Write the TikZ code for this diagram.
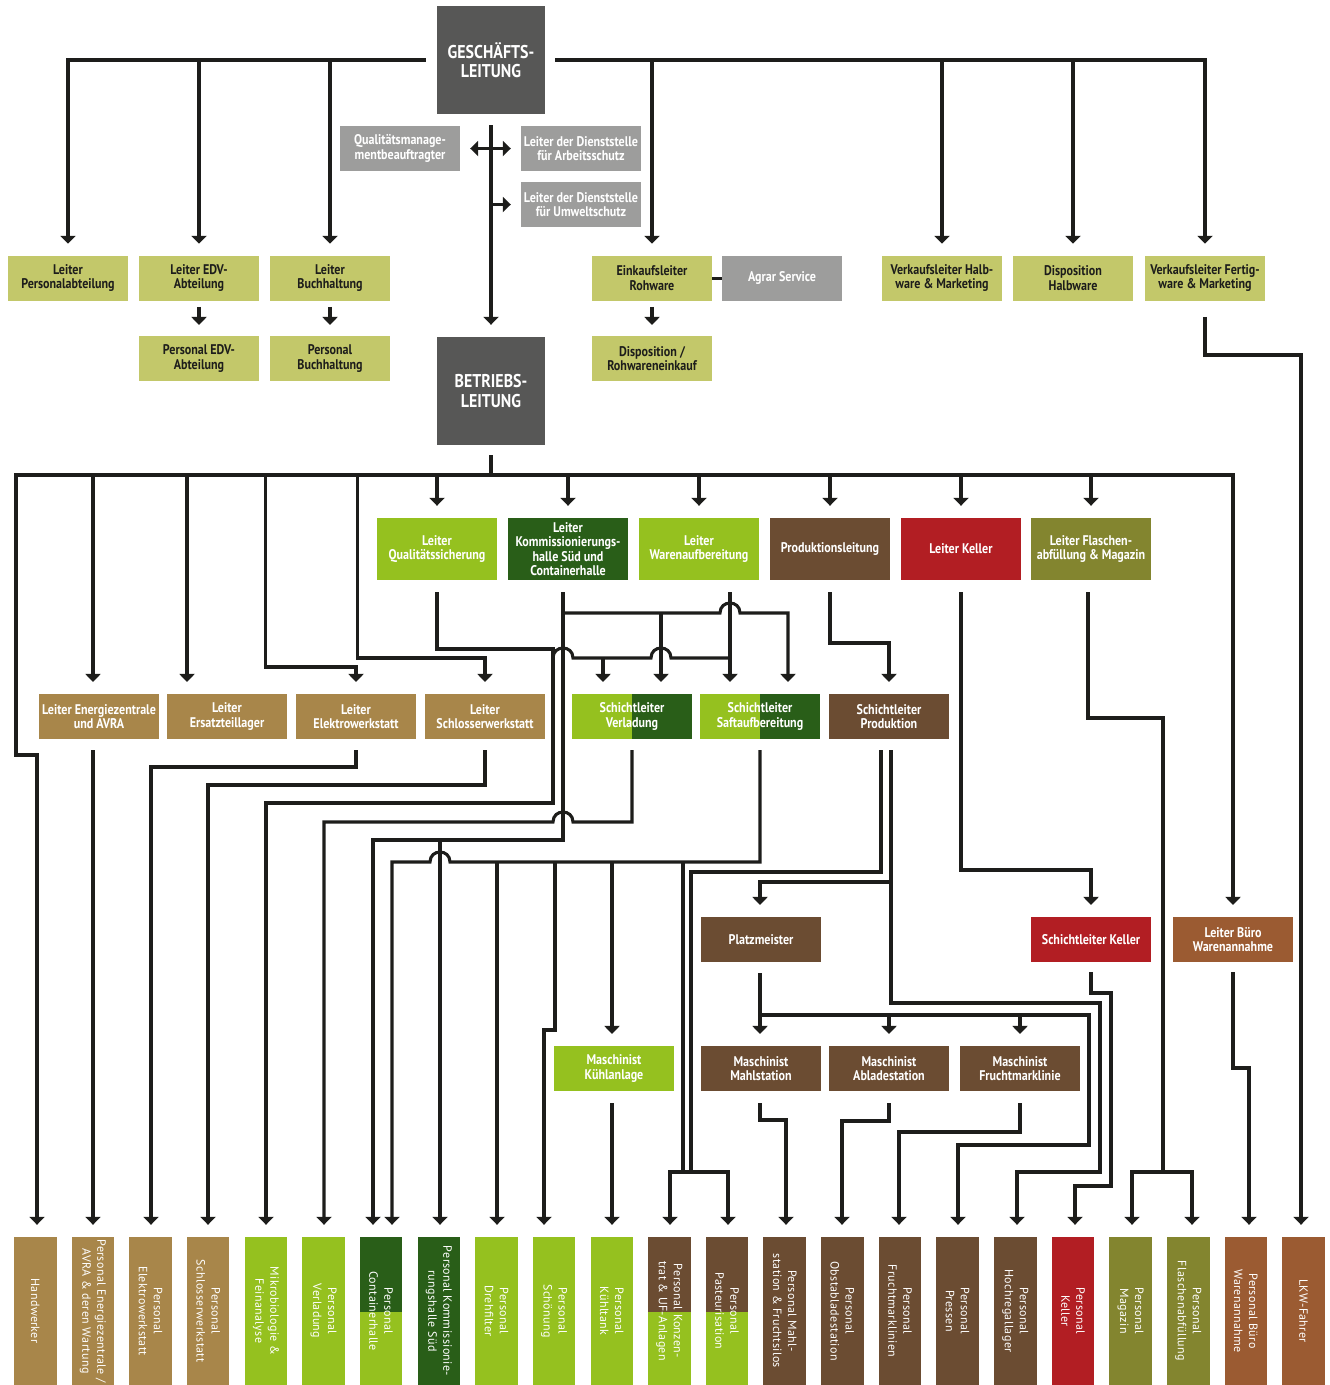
\documentclass[tikz,border=0pt]{standalone}
\usepackage{fontspec}
\setmainfont{PT Sans}[FakeStretch=0.86]
\newfontfamily\btfont{PT Sans}[LetterSpace=3]
\usetikzlibrary{arrows.meta}
\definecolor{topgreen}{HTML}{C3C86A}
\definecolor{greyb}{HTML}{9D9D9C}
\definecolor{darkg}{HTML}{575756}
\definecolor{lgreen}{HTML}{95C11F}
\definecolor{dgreen}{HTML}{295E18}
\definecolor{brownb}{HTML}{6B4C32}
\definecolor{redb}{HTML}{B21E23}
\definecolor{oliveb}{HTML}{83852F}
\definecolor{tanb}{HTML}{A8864A}
\definecolor{rustb}{HTML}{9B5B32}
\definecolor{linec}{HTML}{1D1D1B}
\begin{document}
\begin{tikzpicture}[x=1pt,y=-1pt,
  >={Triangle[width=15pt,length=8pt]},
  box/.style={rectangle, inner sep=0pt, align=center, minimum width=120pt, minimum height=44.7pt,
    font=\fontsize{14}{14.4}\selectfont\bfseries, text=white},
  topbox/.style={box, fill=topgreen, text=linec},
  greybox/.style={box, fill=greyb},
  bossbox/.style={box, fill=darkg, minimum width=108pt, minimum height=108pt, font=\fontsize{18.5}{19.5}\selectfont\bfseries},
  tallbox/.style={box, minimum height=62pt},
  bbox/.style={rectangle, inner sep=0pt, rotate=-90, minimum width=148pt, minimum height=42.5pt,
    align=center, text=white, font=\btfont\fontsize{12}{15}\selectfont},
  ln/.style={line width=3.1pt, draw=linec},
  arr/.style={ln, ->, shorten >=12pt}]
\useasboundingbox (0,0) rectangle (1330,1385);

% ---------- top level ----------
\node[bossbox] (gl) at (491,60) {GESCHÄFTS-\\LEITUNG};
\node[bossbox] (bl) at (491,391) {BETRIEBS-\\LEITUNG};
\node[greybox] (qmb) at (400,148.5) {Qualitätsmanage-\\mentbeauftragter};
\node[greybox] (arbeit) at (581,148.5) {Leiter der Dienststelle\\für Arbeitsschutz};
\node[greybox] (umwelt) at (581,204.5) {Leiter der Dienststelle\\für Umweltschutz};

\node[topbox] (lpers) at (68,278.3) {Leiter\\Personalabteilung};
\node[topbox] (ledv) at (199,278.3) {Leiter EDV-\\Abteilung};
\node[topbox] (lbuch) at (330,278.3) {Leiter\\Buchhaltung};
\node[topbox] (eink) at (652,278.3) {Einkaufsleiter\\Rohware};
\node[greybox] (agrar) at (782,278.3) {Agrar Service};
\node[topbox] (vkhalb) at (942,278.3) {Verkaufsleiter Halb-\\ware \& Marketing};
\node[topbox] (disph) at (1073,278.3) {Disposition\\Halbware};
\node[topbox] (vkfert) at (1205,278.3) {Verkaufsleiter Fertig-\\ware \& Marketing};
\node[topbox] (pedv) at (199,358.5) {Personal EDV-\\Abteilung};
\node[topbox] (pbuch) at (330,358.5) {Personal\\Buchhaltung};
\node[topbox] (disprw) at (652,358.5) {Disposition /\\Rohwareneinkauf};

% ---------- middle row 1 ----------
\node[tallbox, fill=lgreen] (lqs) at (437,549) {Leiter\\Qualitätssicherung};
\node[tallbox, fill=dgreen] (lkomm) at (568,549) {Leiter\\Kommissionierungs-\\halle Süd und\\Containerhalle};
\node[tallbox, fill=lgreen] (lware) at (699,549) {Leiter\\Warenaufbereitung};
\node[tallbox, fill=brownb] (prodl) at (830,549) {Produktionsleitung};
\node[tallbox, fill=redb] (lkeller) at (961,549) {Leiter Keller};
\node[tallbox, fill=oliveb] (lflasch) at (1091,549) {Leiter Flaschen-\\abfüllung \& Magazin};

% ---------- middle row 2 ----------
\fill[lgreen] (572,694) rectangle (632,739);
\fill[dgreen] (632,694) rectangle (692,739);
\fill[lgreen] (700,694) rectangle (760,739);
\fill[dgreen] (760,694) rectangle (820,739);
\node[box, fill=tanb] (lenergie) at (99,716.5) {Leiter Energiezentrale\\und AVRA};
\node[box, fill=tanb] (lersatz) at (227,716.5) {Leiter\\Ersatzteillager};
\node[box, fill=tanb] (lelektro) at (356,716.5) {Leiter\\Elektrowerkstatt};
\node[box, fill=tanb] (lschloss) at (485,716.5) {Leiter\\Schlosserwerkstatt};
\node[box] (sverl) at (632,716.5) {Schichtleiter\\Verladung};
\node[box] (ssaft) at (760,716.5) {Schichtleiter\\Saftaufbereitung};
\node[box, fill=brownb] (sprod) at (889,716.5) {Schichtleiter\\Produktion};

% ---------- rows 3 and 4 ----------
\node[box, fill=brownb] (platz) at (761,939.5) {Platzmeister};
\node[box, fill=redb] (skeller) at (1091,939.5) {Schichtleiter Keller};
\node[box, fill=rustb] (lbuero) at (1233,939.5) {Leiter Büro\\Warenannahme};
\node[box, fill=lgreen] (mkuehl) at (614,1068.5) {Maschinist\\Kühlanlage};
\node[box, fill=brownb] (mmahl) at (761,1068.5) {Maschinist\\Mahlstation};
\node[box, fill=brownb] (mablade) at (889,1068.5) {Maschinist\\Abladestation};
\node[box, fill=brownb] (mfrucht) at (1020,1068.5) {Maschinist\\Fruchtmarklinie};

% ---------- bottom row ----------
\fill[dgreen] (359.9,1237) rectangle (402.4,1312);
\fill[lgreen] (359.9,1312) rectangle (402.4,1385);
\fill[brownb] (648.15,1237) rectangle (690.65,1312);
\fill[lgreen] (648.15,1312) rectangle (690.65,1385);
\fill[brownb] (705.8,1237) rectangle (748.3,1312);
\fill[lgreen] (705.8,1312) rectangle (748.3,1385);
\node[bbox, fill=tanb] (b1) at (35.25,1311) {Handwerker};
\node[bbox, fill=tanb] (b2) at (92.9,1311) {Personal Energiezentrale /\\AVRA \& deren Wartung};
\node[bbox, fill=tanb] (b3) at (150.55,1311) {Personal\\Elektrowerkstatt};
\node[bbox, fill=tanb] (b4) at (208.2,1311) {Personal\\Schlosserwerkstatt};
\node[bbox, fill=lgreen] (b5) at (265.85,1311) {Mikrobiologie \&\\Feinanalyse};
\node[bbox, fill=lgreen] (b6) at (323.5,1311) {Personal\\Verladung};
\node[bbox] (b7) at (381.15,1311) {Personal\\Containerhalle};
\node[bbox, fill=dgreen] (b8) at (438.8,1311) {Personal Kommissionie-\\rungshalle Süd};
\node[bbox, fill=lgreen] (b9) at (496.45,1311) {Personal\\Drehfilter};
\node[bbox, fill=lgreen] (b10) at (554.1,1311) {Personal\\Schönung};
\node[bbox, fill=lgreen] (b11) at (611.75,1311) {Personal\\Kühltank};
\node[bbox] (b12) at (669.4,1311) {Personal Konzen-\\trat \& UF-Anlagen};
\node[bbox] (b13) at (727.05,1311) {Personal\\Pasteurisation};
\node[bbox, fill=brownb] (b14) at (784.7,1311) {Personal Mahl-\\station \& Fruchtsilos};
\node[bbox, fill=brownb] (b15) at (842.35,1311) {Personal\\Obstabladestation};
\node[bbox, fill=brownb] (b16) at (900,1311) {Personal\\Fruchtmarklinien};
\node[bbox, fill=brownb] (b17) at (957.65,1311) {Personal\\Pressen};
\node[bbox, fill=brownb] (b18) at (1015.3,1311) {Personal\\Hochregallager};
\node[bbox, fill=redb] (b19) at (1072.95,1311) {Personal\\Keller};
\node[bbox, fill=oliveb] (b20) at (1130.6,1311) {Personal\\Magazin};
\node[bbox, fill=oliveb] (b21) at (1188.25,1311) {Personal\\Flaschenabfüllung};
\node[bbox, fill=rustb] (b22) at (1245.9,1311) {Personal Büro\\Warenannahme};
\node[bbox, fill=rustb] (b23) at (1303.55,1311) {LKW-Fahrer};

% ---------- connectors: top ----------
\draw[arr, shorten <=11pt] (gl.west) -- (68,60) -- (lpers.north);
\draw[arr] (199,60) -- (ledv.north);
\draw[arr] (330,60) -- (lbuch.north);
\draw[arr, shorten <=10pt] (gl.east) -- (1205,60) -- (vkfert.north);
\draw[arr] (652,60) -- (eink.north);
\draw[arr] (942,60) -- (vkhalb.north);
\draw[arr] (1073,60) -- (disph.north);
\draw[arr, shorten <=11pt] (gl.south) -- (bl.north);
\draw[ln, <->, shorten <=10pt, shorten >=10pt] (qmb.east) -- (arbeit.west);
\draw[arr, shorten >=10pt] (gl.south |- umwelt.west) -- (umwelt.west);
\draw[arr, shorten <=6pt, shorten >=11pt] (ledv.south) -- (pedv.north);
\draw[arr, shorten <=6pt, shorten >=11pt] (lbuch.south) -- (pbuch.north);
\draw[arr, shorten <=6pt, shorten >=11pt] (eink.south) -- (disprw.north);
\draw[ln] (eink.east) -- (agrar.west);
\draw[arr, shorten <=16pt] (vkfert.south) -- (1205,355) -- (1301,355) -- (1301,0 |- b23.west);

% ---------- connectors: Betriebsleitung bus ----------
\draw[ln, shorten <=10pt] (bl.south) -- (491,475);
\draw[arr] (491,475) -- (16,475) -- (16,755) -- (37,755) -- (37,0 |- b1.west);
\draw[arr] (491,475) -- (1233,475) -- (lbuero.north);
\draw[arr] (93,475) -- (93,0 |- lenergie.north);
\draw[arr] (187,475) -- (187,0 |- lersatz.north);
\draw[arr] (265.5,475) -- (265.5,667) -- (356,667) -- (lelektro.north);
\draw[arr] (357.5,475) -- (357.5,658) -- (485,658) -- (lschloss.north);
\draw[arr] (437,475) -- (lqs.north);
\draw[arr] (568,475) -- (lkomm.north);
\draw[arr] (699,475) -- (lware.north);
\draw[arr] (830,475) -- (prodl.north);
\draw[arr] (961,475) -- (lkeller.north);
\draw[arr] (1091,475) -- (lflasch.north);

% ---------- connectors: middle ----------
\draw[arr, shorten <=12pt] (lqs.south) -- (437,649) -- (553,649) -- (553,803) -- (266,803) -- (266,0 |- b5.west);
\draw[ln] (553,658) .. controls (553,644.7) and (573,644.7) .. (573,658) -- (651,658)
  .. controls (651,644.7) and (671,644.7) .. (671,658) -- (730,658);
\draw[arr] (603,658) -- (603,0 |- sverl.north);
\draw[arr, shorten <=12pt] (563,0 |- lkomm.south) -- (563,840) -- (373,840) -- (373,0 |- b7.west);
\draw[arr] (440,840) -- (440,0 |- b8.west);
\draw[arr] (563,613) -- (720,613) .. controls (720,599.7) and (740,599.7) .. (740,613) -- (788,613) -- (788,0 |- ssaft.north);
\draw[arr] (661,613) -- (661,0 |- sverl.north);
\draw[arr, shorten <=12pt] (730,0 |- lware.south) -- (730,0 |- ssaft.north);
\draw[arr, shorten <=12pt] (prodl.south) -- (830,643) -- (889,643) -- (sprod.north);

\draw[arr, shorten <=11pt] (632,0 |- sverl.south) -- (632,822) -- (573,822)
  .. controls (573,808.7) and (553,808.7) .. (553,822) -- (324,822) -- (324,0 |- b6.west);
\draw[arr, shorten <=11pt] (760,0 |- ssaft.south) -- (760,862) -- (450,862)
  .. controls (450,848.7) and (430,848.7) .. (430,862) -- (392,862) -- (392,0 |- b7.west);
\draw[arr] (497,862) -- (497,0 |- b9.west);
\draw[arr] (555,862) -- (555,1030) -- (544,1030) -- (544,0 |- b10.west);
\draw[arr] (612,862) -- (612,0 |- mkuehl.north);
\draw[ln] (683,862) -- (683,1172);
\draw[arr, shorten <=12pt] (612,0 |- mkuehl.south) -- (612,0 |- b11.west);

\draw[ln, shorten <=11pt] (881,0 |- sprod.south) -- (881,872) -- (691,872) -- (691,1172);
\draw[arr] (691,1172) -- (670,1172) -- (670,0 |- b12.west);
\draw[arr] (683,1172) -- (728,1172) -- (728,0 |- b13.west);
\draw[arr, shorten <=11pt] (891,0 |- sprod.south) -- (891,882) -- (760,882) -- (760,0 |- platz.north);
\draw[arr] (891,882) -- (891,1003) -- (1100,1003) -- (1100,1172) -- (1017,1172) -- (1017,0 |- b18.west);

\draw[arr, shorten <=11pt] (760,0 |- platz.south) -- (760,0 |- mmahl.north);
\draw[arr] (760,1015) -- (1089,1015) -- (1089,1145) -- (958,1145) -- (958,0 |- b17.west);
\draw[arr] (889,1015) -- (889,0 |- mablade.north);
\draw[arr] (1020,1015) -- (1020,0 |- mfrucht.north);
\draw[arr, shorten <=12pt] (760,0 |- mmahl.south) -- (760,1120) -- (786,1120) -- (786,0 |- b14.west);
\draw[arr, shorten <=12pt] (889,0 |- mablade.south) -- (889,1121) -- (842,1121) -- (842,0 |- b15.west);
\draw[arr, shorten <=12pt] (1020,0 |- mfrucht.south) -- (1020,1132) -- (899,1132) -- (899,0 |- b16.west);

\draw[arr, shorten <=12pt] (961,0 |- lkeller.south) -- (961,870) -- (1091,870) -- (skeller.north);
\draw[arr, shorten <=10pt] (1091,0 |- skeller.south) -- (1091,993) -- (1111,993) -- (1111,1186) -- (1075,1186) -- (1075,0 |- b19.west);
\draw[ln, shorten <=12pt] (1088,0 |- lflasch.south) -- (1088,718) -- (1163,718) -- (1163,1172);
\draw[arr] (1163,1172) -- (1132,1172) -- (1132,0 |- b20.west);
\draw[arr] (1163,1172) -- (1192,1172) -- (1192,0 |- b21.west);
\draw[arr, shorten <=10pt] (lbuero.south) -- (1233,1068) -- (1249,1068) -- (1249,0 |- b22.west);

\draw[arr, shorten <=11pt] (93,0 |- lenergie.south) -- (93,0 |- b2.west);
\draw[arr, shorten <=11pt] (lelektro.south) -- (356,767) -- (151,767) -- (151,0 |- b3.west);
\draw[arr, shorten <=11pt] (lschloss.south) -- (485,785) -- (208,785) -- (208,0 |- b4.west);
\end{tikzpicture}
\end{document}
